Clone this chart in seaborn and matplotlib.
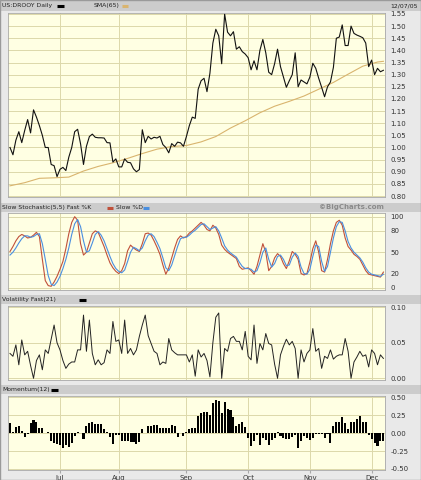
"""
BigCharts-style daily chart of US:DROOY (Jun - Dec 2005):
price + SMA(65), slow stochastic, volatility and momentum panels.
"""
import numpy as np
import pandas as pd
import matplotlib
matplotlib.use("Agg")
import matplotlib.pyplot as plt
from matplotlib.patches import Rectangle
import seaborn as sns

W, H = 421, 480

# ---- data (one value per trading day) ----
close = [
    1.00, 0.97, 1.03, 1.065, 1.02, 1.07, 1.115, 1.06, 1.155, 1.125,
    1.09, 1.05, 1.00, 1.00, 0.93, 0.925, 0.88, 0.91, 0.918, 0.905,
    0.96, 1.00, 1.065, 1.075, 1.015, 0.93, 1.005, 1.045, 1.055, 1.042,
    1.04, 1.04, 1.039, 1.02, 1.019, 0.94, 0.953, 0.92, 0.92, 0.953,
    0.939, 0.937, 0.912, 0.90, 0.909, 1.073, 1.02, 1.046, 1.035, 1.042,
    1.039, 1.046, 1.012, 1.00, 0.978, 1.016, 1.005, 1.022, 1.019, 1.005,
    1.045, 1.09, 1.125, 1.12, 1.24, 1.275, 1.285, 1.23, 1.306, 1.43,
    1.487, 1.46, 1.345, 1.55, 1.475, 1.46, 1.477, 1.405, 1.415, 1.395,
    1.385, 1.37, 1.32, 1.357, 1.32, 1.40, 1.445, 1.39, 1.31, 1.30,
    1.345, 1.405, 1.333, 1.29, 1.248, 1.275, 1.30, 1.39, 1.25, 1.278,
    1.27, 1.262, 1.29, 1.347, 1.326, 1.285, 1.248, 1.209, 1.25, 1.27,
    1.33, 1.45, 1.455, 1.505, 1.42, 1.42, 1.50, 1.47, 1.463, 1.458,
    1.452, 1.43, 1.333, 1.36, 1.30, 1.326, 1.312, 1.318,
]

sma_days = [0, 5, 10, 15, 20, 25, 30, 35, 40, 45, 50, 55, 60, 65, 70,
            75, 80, 85, 90, 95, 100, 105, 110, 115, 120, 125, 127]
sma65 = [0.842, 0.855, 0.873, 0.875, 0.878, 0.903, 0.922, 0.937, 0.955,
         0.975, 0.993, 1.004, 1.008, 1.023, 1.045, 1.08, 1.11, 1.143, 1.17,
         1.19, 1.212, 1.24, 1.268, 1.302, 1.335, 1.352, 1.355]

fast_k = [
    51, 58, 66, 72, 75, 73, 70, 71, 74, 78,
    72, 40, 10, 3, 2, 8, 16, 26, 37, 55,
    76, 92, 100, 95, 62, 46, 50, 63, 76, 80,
    78, 68, 58, 46, 35, 28, 23, 20, 24, 34,
    52, 60, 56, 53, 51, 62, 76, 77, 74, 66,
    57, 47, 32, 19, 28, 42, 56, 68, 73, 70,
    72, 77, 80, 84, 88, 92, 88, 82, 80, 88,
    84, 75, 60, 54, 50, 47, 44, 41, 30, 26,
    27, 28, 24, 19, 30, 46, 62, 50, 24, 30,
    42, 48, 44, 34, 27, 38, 51, 47, 40, 20,
    18, 20, 36, 55, 66, 50, 24, 22, 40, 62,
    80, 92, 95, 88, 70, 58, 53, 47, 44, 40,
    32, 24, 19, 18, 17, 16, 15, 22,
]

slow_d = [
    46, 50, 56, 63, 69, 73, 73, 71, 72, 75,
    76, 62, 40, 17, 5, 3, 8, 16, 27, 40,
    56, 75, 90, 96, 86, 66, 50, 52, 63, 75,
    79, 74, 66, 55, 44, 34, 27, 23, 21, 25,
    37, 50, 57, 55, 52, 56, 66, 74, 76, 72,
    64, 55, 42, 28, 24, 32, 45, 58, 69, 71,
    71, 74, 78, 81, 85, 89, 90, 86, 82, 84,
    86, 80, 70, 59, 53, 49, 46, 43, 36, 30,
    27, 27, 26, 22, 24, 35, 50, 56, 40, 29,
    34, 44, 46, 40, 31, 32, 43, 49, 44, 29,
    20, 19, 26, 44, 60, 58, 37, 23, 30, 50,
    70, 86, 93, 92, 80, 65, 56, 50, 46, 42,
    36, 28, 22, 19, 18, 17, 16, 19,
]

volatility = [
    0.035, 0.031, 0.047, 0.019, 0.054, 0.033, 0.038, 0.018, 0.000, 0.025,
    0.033, 0.012, 0.040, 0.035, 0.055, 0.075, 0.050, 0.040, 0.025, 0.014,
    0.020, 0.023, 0.023, 0.040, 0.040, 0.089, 0.038, 0.082, 0.035, 0.019,
    0.026, 0.019, 0.022, 0.040, 0.035, 0.080, 0.052, 0.054, 0.035, 0.082,
    0.035, 0.042, 0.033, 0.040, 0.059, 0.075, 0.089, 0.060, 0.049, 0.038,
    0.035, 0.019, 0.023, 0.021, 0.056, 0.040, 0.036, 0.033, 0.033, 0.033,
    0.033, 0.023, 0.033, 0.003, 0.040, 0.030, 0.035, 0.025, 0.002, 0.050,
    0.086, 0.092, 0.000, 0.042, 0.038, 0.056, 0.059, 0.052, 0.052, 0.040,
    0.066, 0.031, 0.026, 0.075, 0.021, 0.049, 0.040, 0.063, 0.049, 0.047,
    0.020, 0.000, 0.033, 0.045, 0.055, 0.047, 0.052, 0.042, 0.000, 0.040,
    0.023, 0.035, 0.040, 0.070, 0.038, 0.042, 0.014, 0.031, 0.028, 0.040,
    0.027, 0.031, 0.033, 0.033, 0.056, 0.038, 0.000, 0.023, 0.030, 0.038,
    0.031, 0.033, 0.016, 0.040, 0.035, 0.019, 0.033, 0.028,
]

momentum = [
    0.148, 0.02, 0.083, 0.10, 0.03, -0.056, -0.014, 0.139, 0.185, 0.16,
    0.07, 0.07, 0.005, 0.02, -0.116, -0.14, -0.153, -0.16, -0.208, -0.16,
    -0.2, -0.14, -0.046, 0.02, 0.005, -0.083, 0.093, 0.148, 0.16, 0.13,
    0.125, 0.125, 0.056, 0.01, -0.056, -0.153, -0.023, -0.023, -0.116, -0.116,
    -0.116, -0.13, -0.13, -0.148, -0.13, 0.056, 0.005, 0.093, 0.093, 0.116,
    0.11, 0.07, 0.07, 0.07, 0.07, 0.116, 0.106, -0.056, 0.0, -0.037,
    0.01, 0.056, 0.07, 0.07, 0.24, 0.278, 0.29, 0.29, 0.255, 0.417,
    0.463, 0.454, 0.278, 0.44, 0.333, 0.324, 0.222, 0.106, 0.125, 0.162,
    0.083, -0.07, -0.176, -0.116, -0.03, -0.162, -0.07, -0.1, -0.171, -0.093,
    -0.07, 0.01, -0.046, -0.07, -0.083, -0.083, -0.056, -0.023, -0.208, -0.106,
    -0.046, -0.07, -0.093, -0.07, -0.005, -0.01, -0.01, -0.07, -0.01, -0.14,
    0.10, 0.153, 0.162, 0.23, 0.148, 0.056, 0.162, 0.162, 0.20, 0.24,
    0.162, 0.162, -0.023, -0.083, -0.14, -0.176, -0.116, -0.116,
]

month_labels = ["Jul", "Aug", "Sep", "Oct", "Nov", "Dec"]
price_ticks = [0.80, 0.85, 0.90, 0.95, 1.00, 1.05, 1.10, 1.15, 1.20,
               1.25, 1.30, 1.35, 1.40, 1.45, 1.50, 1.55]
stoch_ticks = [0, 20, 50, 80, 100]
vol_ticks = [0.00, 0.05, 0.10]
mom_ticks = [-0.50, -0.25, 0.00, 0.25, 0.50]

# trading calendar -> integer day index, month gridlines at first session
dates = pd.bdate_range("2005-06-08", "2005-12-07")
dates = dates.drop(pd.to_datetime(["2005-07-04", "2005-09-05", "2005-11-24"]))
day = np.arange(len(dates))
month_starts = [int(day[dates.month == m][0]) for m in range(7, 13)]

df = pd.DataFrame({"day": day, "close": close, "k": fast_k, "d": slow_d,
                   "vol": volatility, "mom": momentum})
sma_df = pd.DataFrame({"day": sma_days, "sma": sma65})

# ---- colours / layout (pixels) ----
PAGE = "#E9E9E9"
BAND = "#CCCCCC"
PLOT_BG = "#FFFFE3"
GRID = "#DCD8AA"
SPINE = "#A8A8A8"
TEXT = "#333333"
X0, X1 = 8, 385
XLIM = (-0.68, 127.55)
FONT = "DejaVu Sans"
HFS = 4.4   # header font size

fig = plt.figure(figsize=(W / 100, H / 100), dpi=100)
fig.patch.set_facecolor(PAGE)


def panel(top, bottom, ylim, ticks, fmt):
    ax = fig.add_axes([X0 / W, 1 - bottom / H, (X1 - X0) / W, (bottom - top) / H])
    ax.set_facecolor(PLOT_BG)
    ax.set_xlim(XLIM)
    ax.set_ylim(ylim)
    ax.set_xticks(month_starts)
    ax.set_xticklabels([])
    ax.set_yticks(ticks)
    ax.set_yticklabels([fmt.format(t) for t in ticks], fontfamily=FONT)
    ax.yaxis.tick_right()
    ax.tick_params(axis="x", length=0)
    ax.tick_params(axis="y", length=0, pad=4, labelsize=5, labelcolor=TEXT)
    ax.grid(True, color=GRID, lw=0.7)
    ax.set_axisbelow(True)
    for s in ax.spines.values():
        s.set_color(SPINE)
        s.set_linewidth(0.6)
    return ax


def header(top, bottom, items, right_text=None, right_style=None):
    hx = fig.add_axes([0, 1 - bottom / H, 1, (bottom - top) / H])
    hx.set_xlim(0, W)
    hx.set_ylim(0, 1)
    hx.axis("off")
    hx.add_patch(Rectangle((0, 0), W, 1, color=BAND, lw=0))
    for x, label, dash_x, color in items:
        hx.text(x, 0.5, label, fontsize=HFS, fontfamily=FONT, color="#222222",
                va="center", ha="left")
        hx.plot(dash_x, [0.5, 0.5], color=color, lw=2.2, solid_capstyle="butt")
    if right_text:
        hx.text(right_text[0], 0.5, right_text[1], va="center", ha="right",
                fontfamily=FONT, **(right_style or {}))
    return hx


# price panel
header(0, 11, [(2, "US:DROOY Daily", [57, 64], "#000000"),
               (94, "SMA(65)", [122, 128], "#D9B46E")],
       right_text=(418, "12/07/05"),
       right_style=dict(fontsize=HFS, color="#222222"))
ax_p = panel(13, 197, (0.796, 1.554), price_ticks, "{:.2f}")
sns.lineplot(data=sma_df, x="day", y="sma", ax=ax_p, color="#D9B46E", lw=0.8)
sns.lineplot(data=df, x="day", y="close", ax=ax_p, color="#111111", lw=0.8)

# slow stochastic
header(203, 212, [(2, "Slow Stochastic(5,5) Fast %K", [107, 113], "#C0503A"),
                  (116, "Slow %D", [143, 149], "#4A8FE0")],
       right_text=(384, "\u00a9BigCharts.com"),
       right_style=dict(fontsize=5, color="#8A8A8A", fontweight="bold"))
ax_s = panel(213, 290, (-3.2, 105.2), stoch_ticks, "{:d}")
sns.lineplot(data=df, x="day", y="k", ax=ax_s, color="#C0503A", lw=0.8)
sns.lineplot(data=df, x="day", y="d", ax=ax_s, color="#4A8FE0", lw=0.8)

# volatility
header(295, 304, [(2, "Volatility Fast(21)", [79, 86], "#000000")])
ax_v = panel(306, 380, (-0.0024, 0.1018), vol_ticks, "{:.2f}")
sns.lineplot(data=df, x="day", y="vol", ax=ax_v, color="#222222", lw=0.7)

# momentum
header(385, 394, [(2, "Momentum(12)", [51, 58], "#000000")])
ax_m = panel(396, 470, (-0.514, 0.518), mom_ticks, "{:.2f}")
sns.barplot(data=df, x="day", y="mom", ax=ax_m, native_scale=True,
            color="black", saturation=1, width=0.7, errorbar=None)
ax_m.set_xlim(XLIM)
ax_m.set_xticks(month_starts)
ax_m.set_xticklabels(month_labels, fontsize=5, fontfamily=FONT, color=TEXT)
ax_m.tick_params(axis="x", length=2, color=SPINE, pad=1.5)

for ax in (ax_p, ax_s, ax_v, ax_m):
    ax.set_xlabel("")
    ax.set_ylabel("")

fig.add_artist(Rectangle((0, 0), 1, 1, transform=fig.transFigure, fill=False,
                         edgecolor="#9A9A9A", lw=1))

fig.savefig("out.png", dpi=100, facecolor=fig.get_facecolor())
